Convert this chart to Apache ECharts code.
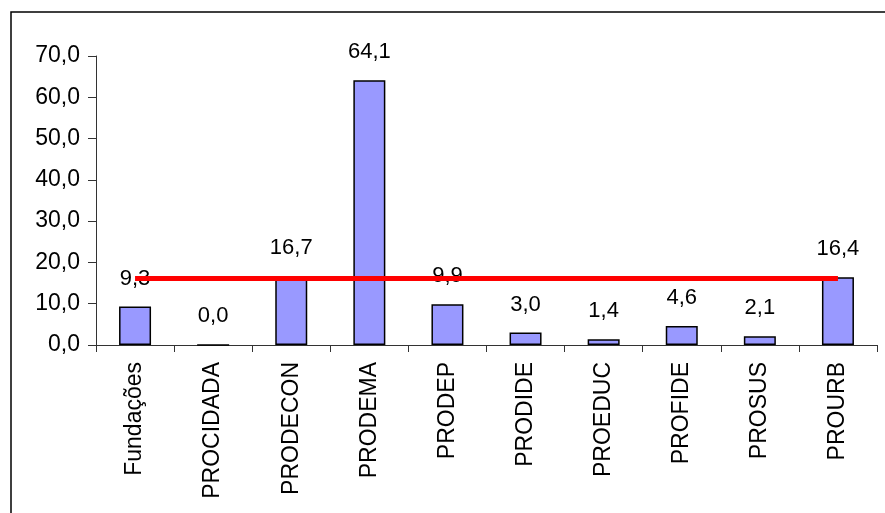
<!DOCTYPE html>
<html>
<head>
<meta charset="utf-8">
<script src="https://cdn.jsdelivr.net/npm/echarts@6/dist/echarts.min.js"></script>
<style>
  html, body { margin: 0; padding: 0; background: #fff; }
  #chart { width: 885px; height: 513px; }
</style>
</head>
<body>
<div id="chart"></div>
<script>
const categories = ['Fundações', 'PROCIDADA', 'PRODECON', 'PRODEMA', 'PRODEP', 'PRODIDE', 'PROEDUC', 'PROFIDE', 'PROSUS', 'PROURB']
const values = [9.3, 0.0, 16.7, 64.1, 9.9, 3.0, 1.4, 4.6, 2.1, 16.4]
const refLine = [16.1, 16.1, 16.1, 16.1, 16.1, 16.1, 16.1, 16.1, 16.1, 16.1]

const fmt = v => Number(v).toFixed(1).replace('.', ',')
const font = 'Liberation Sans, Arial, sans-serif'

const chart = echarts.init(document.getElementById('chart'))

chart.setOption({
  animation: false,
  backgroundColor: '#fff',
  graphic: [{
    type: 'rect',
    shape: { x: 11, y: 12, width: 900, height: 520 },
    style: { fill: 'none', stroke: '#000', lineWidth: 1.5 },
    silent: true
  }],
  grid: { left: 96, right: 8, top: 56, bottom: 168 },
  xAxis: {
    type: 'category',
    data: categories,
    axisLine: { lineStyle: { color: '#333', width: 1 } },
    axisTick: { show: true, length: 7, lineStyle: { color: '#333' } },
    axisLabel: {
      rotate: 90,
      margin: 17,
      color: '#000',
      fontSize: 23,
      fontFamily: font,
      interval: 0
    }
  },
  yAxis: {
    type: 'value',
    min: 0,
    max: 70,
    interval: 10,
    splitLine: { show: false },
    axisLine: { show: true, lineStyle: { color: '#333', width: 1 } },
    axisTick: { show: true, length: 8, lineStyle: { color: '#333' } },
    axisLabel: {
      color: '#000',
      fontSize: 23,
      fontFamily: font,
      margin: 16,
      formatter: v => fmt(v)
    }
  },
  series: [
    {
      type: 'bar',
      data: values,
      barWidth: 32,
      itemStyle: { color: '#9999FF', borderColor: '#000', borderWidth: 1.5 },
      label: {
        show: true,
        position: 'top',
        distance: 17,
        color: '#000',
        fontSize: 22,
        fontFamily: font,
        formatter: p => fmt(p.value)
      },
      z: 2
    },
    {
      type: 'line',
      data: refLine,
      symbol: 'none',
      lineStyle: { color: '#FF0000', width: 5 },
      z: 3
    }
  ]
})
</script>
</body>
</html>
